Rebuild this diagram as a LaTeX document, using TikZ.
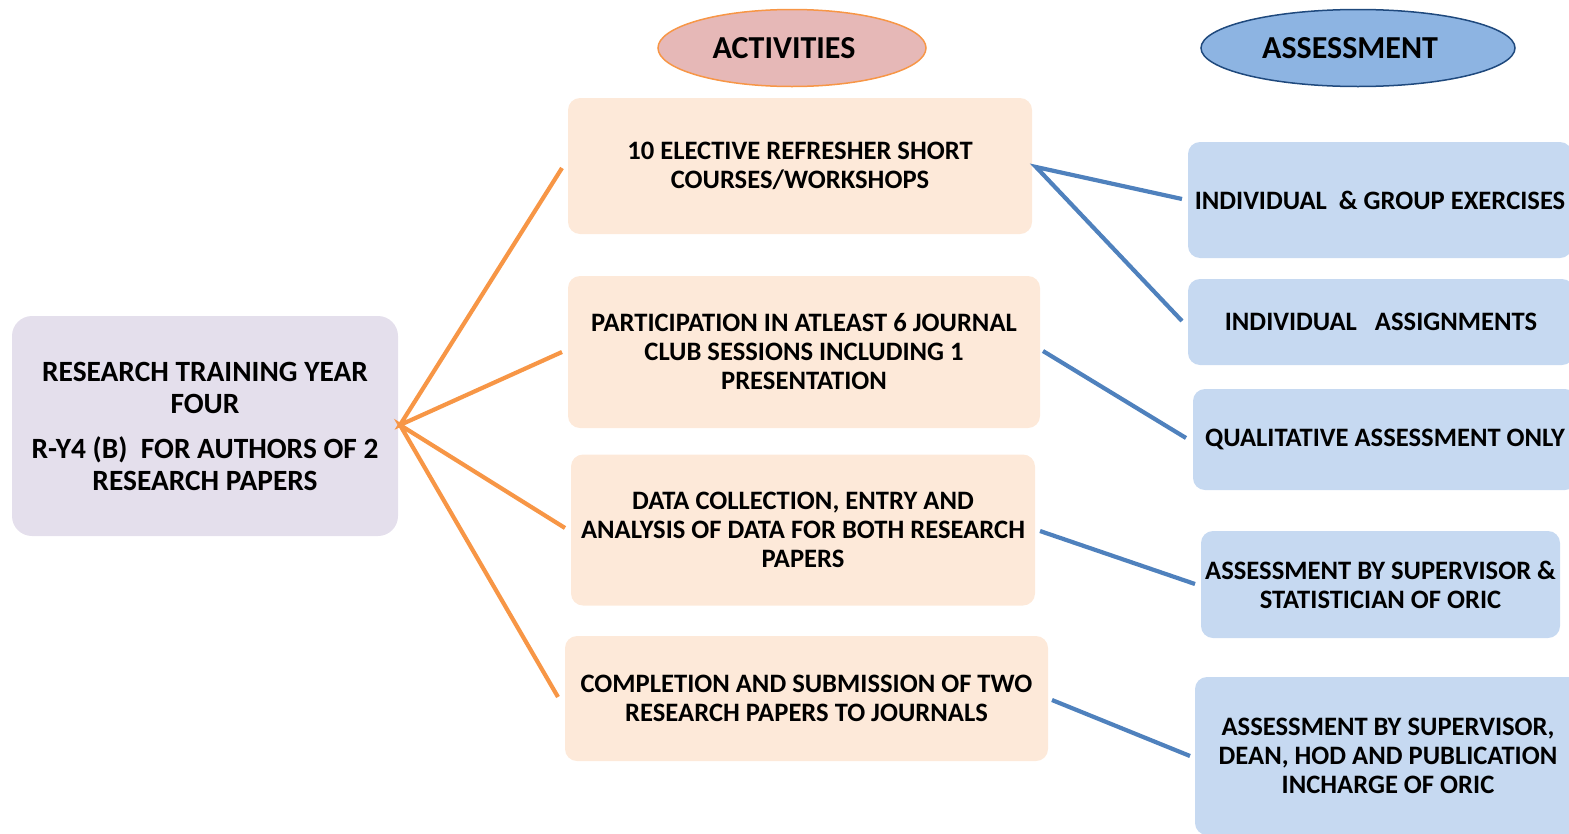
\documentclass[tikz,border=0pt]{standalone}
\usepackage{fontspec}
\setmainfont{Carlito}
\usetikzlibrary{shapes.geometric}

\definecolor{lavender}{HTML}{E4DFEC}
\definecolor{peach}{HTML}{FDE9D9}
\definecolor{paleblue}{HTML}{C6D9F1}
\definecolor{rosefill}{HTML}{E6B8B7}
\definecolor{orangeline}{HTML}{F79646}
\definecolor{skyfill}{HTML}{8DB4E2}
\definecolor{navy}{HTML}{1F497D}
\definecolor{steel}{HTML}{4F81BD}

\tikzset{
  box/.style={rectangle, rounded corners=12pt, inner sep=0pt, align=center,
    font=\bfseries\fontsize{26.6}{29}\selectfont},
  actbox/.style={box, fill=peach},
  assbox/.style={box, fill=paleblue},
  mainbox/.style={box, fill=lavender, rounded corners=20pt,
    font=\bfseries\fontsize{29.4}{32}\selectfont},
  header/.style={ellipse, inner sep=0pt, line width=1.5pt,
    font=\bfseries\fontsize{32}{36}\selectfont},
  orangelink/.style={draw=orangeline, line width=4.2pt},
  bluelink/.style={draw=steel, line width=4.2pt},
}

\begin{document}
\begin{tikzpicture}[x=1pt,y=-1pt]
\useasboundingbox (0,0) rectangle (1569,833);
\clip (0,0) rectangle (1569,833);

% column headers (titles sit a little left of centre)
\node[header, fill=rosefill, draw=orangeline, minimum width=268pt, minimum height=77pt]
  (acthead) at (792,48) {ACTIVITIES\hspace*{16pt}};
\node[header, fill=skyfill, draw=navy, minimum width=314pt, minimum height=77pt]
  (asshead) at (1358,48) {ASSESSMENT\hspace*{16pt}};

% programme box
\node[mainbox, minimum width=386pt, minimum height=220pt] (main) at (205,426)
  {RESEARCH TRAINING YEAR\\FOUR\\[13pt]R-Y4 (B)\ \ FOR AUTHORS OF 2\\RESEARCH PAPERS};

% activities
\node[actbox, minimum width=464pt, minimum height=136pt] (a1) at (800,166)
  {10 ELECTIVE REFRESHER SHORT\\COURSES/WORKSHOPS};
\node[actbox, minimum width=472pt, minimum height=152pt] (a2) at (804,352)
  {PARTICIPATION IN ATLEAST 6 JOURNAL\\CLUB SESSIONS INCLUDING 1\\PRESENTATION};
\node[actbox, minimum width=464pt, minimum height=151pt] (a3) at (803,530)
  {DATA COLLECTION, ENTRY AND\\ANALYSIS OF DATA FOR BOTH RESEARCH\\PAPERS};
\node[actbox, minimum width=483pt, minimum height=125pt] (a4) at (806.5,698.5)
  {COMPLETION AND SUBMISSION OF TWO\\RESEARCH PAPERS TO JOURNALS};

% assessments
\node[assbox, minimum width=384pt, minimum height=116pt] (b1) at (1380,200)
  {INDIVIDUAL\ \ \& GROUP EXERCISES};
\node[assbox, minimum width=386pt, minimum height=86pt] (b2) at (1381,322)
  {INDIVIDUAL\ \ \ ASSIGNMENTS};
\node[assbox, minimum width=384pt, minimum height=101pt] (b3) at (1385,439.5)
  {QUALITATIVE ASSESSMENT ONLY};
\node[assbox, minimum width=359pt, minimum height=107pt] (b4) at (1380.5,584.5)
  {ASSESSMENT BY SUPERVISOR \&\\STATISTICIAN OF ORIC};
\node[assbox, minimum width=386pt, minimum height=158pt] (b5) at (1388,756)
  {ASSESSMENT BY SUPERVISOR,\\DEAN, HOD AND PUBLICATION\\INCHARGE OF ORIC};

% connector end points
\coordinate (hub) at (400,425);
\coordinate (a1in) at (562,168);
\coordinate (a2in) at (562,352);
\coordinate (a3in) at (565,528);
\coordinate (a4in) at (558,697);
\coordinate (a1out) at (1036,167);
\coordinate (a2out) at (1043,351);
\coordinate (a3out) at (1040,531);
\coordinate (a4out) at (1052,700);
\coordinate (b1in) at (1182,199);
\coordinate (b2in) at (1182,321);
\coordinate (b3in) at (1186,438);
\coordinate (b4in) at (1195,584);
\coordinate (b5in) at (1190,756);

% programme to activities
\draw[orangelink] (a1in) -- (hub) -- (a2in);
\draw[orangelink] (a3in) -- (hub) -- (a4in);

% activities to assessments
\draw[bluelink] (b1in) -- (a1out) -- (b2in);
\draw[bluelink] (a2out) -- (b3in);
\draw[bluelink] (a3out) -- (b4in);
\draw[bluelink] (a4out) -- (b5in);
\end{tikzpicture}
\end{document}
